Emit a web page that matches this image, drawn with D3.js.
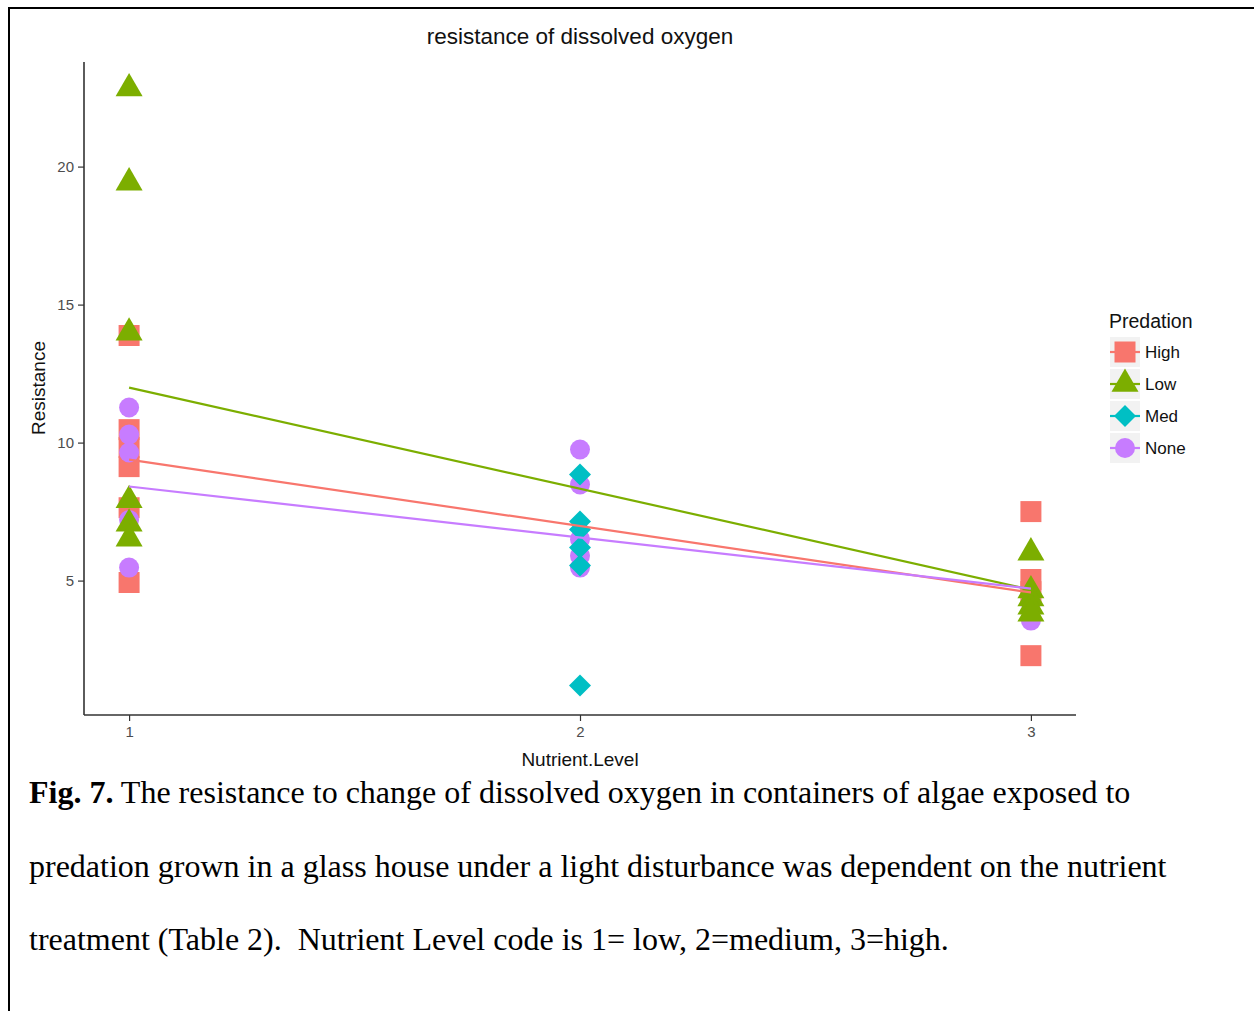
<!DOCTYPE html>
<html>
<head>
<meta charset="utf-8">
<script src="https://cdn.jsdelivr.net/npm/d3@7"></script>
<style>
  html, body { margin: 0; padding: 0; background: #fff; }
  svg { display: block; }
</style>
</head>
<body>
<svg id="fig" width="1254" height="1011"></svg>
<script>
// Predation groups and their observations (Nutrient.Level, Resistance)
const groups = ["High", "Low", "Med", "None"];
const colors = ["#F8766D", "#7CAE00", "#00BFC4", "#C77CFF"];

const highLevel = [1, 1, 1, 1, 1, 1, 3, 3, 3, 3];
const highValue = [13.88, 10.47, 9.82, 9.13, 7.64, 4.93, 7.5, 5.04, 4.6, 2.28];

const noneLevel = [1, 1, 1, 1, 1, 2, 2, 2, 2, 2, 3, 3];
const noneValue = [11.27, 10.29, 9.64, 7.2, 5.47, 9.75, 8.48, 6.5, 5.9, 5.47, 4.2, 3.55];

const medLevel = [2, 2, 2, 2, 2, 2];
const medValue = [8.84, 7.14, 6.85, 6.2, 5.55, 1.2];

const lowLevel = [1, 1, 1, 1, 1, 1, 3, 3, 3, 3, 3];
const lowValue = [22.83, 19.42, 13.98, 7.91, 7.06, 6.52, 6.01, 4.64, 4.35, 4.05, 3.8];

// Linear fits (value at Nutrient.Level 1 and 3)
const fitLevels = [1, 3];
const fitHigh = [9.38, 4.57];
const fitLow = [11.99, 4.67];
const fitNone = [8.41, 4.71];

const xTicks = [1, 2, 3];
const yTicks = [5, 10, 15, 20];

const titleText = "resistance of dissolved oxygen";
const xTitle = "Nutrient.Level";
const yTitle = "Resistance";
const legendTitle = "Predation";
const captionLines = [
  [["Fig. 7.", true], [" The resistance to change of dissolved oxygen in containers of algae exposed to", false]],
  [["predation grown in a glass house under a light disturbance was dependent on the nutrient", false]],
  [["treatment (Table 2).  Nutrient Level code is 1= low, 2=medium, 3=high.", false]]
];

const svg = d3.select("#fig");
const sans = "'Liberation Sans', Arial, sans-serif";
const serif = "'Liberation Serif', 'Times New Roman', serif";

// page frame
svg.append("line").attr("x1", 9).attr("x2", 1254).attr("y1", 8).attr("y2", 8)
  .attr("stroke", "#000").attr("stroke-width", 2);
svg.append("line").attr("x1", 9).attr("x2", 9).attr("y1", 7).attr("y2", 1011)
  .attr("stroke", "#000").attr("stroke-width", 2);

const plot = { left: 84, right: 1076, top: 62, bottom: 715 };

const x = d3.scaleLinear().domain([0.9, 3.1]).range([plot.left, plot.right]);
const y = d3.scaleLinear().domain([0.13, 23.79]).range([plot.bottom, plot.top]);

// symbol shapes per group
const shapeOf = {
  High: { type: d3.symbolSquare, size: 441, rot: 0 },
  Low: { type: d3.symbolTriangle, size: 316, rot: 0 },
  Med: { type: d3.symbolSquare, size: 242, rot: 45 },
  None: { type: d3.symbolCircle, size: 314, rot: 0 }
};
const symbolPath = g => d3.symbol().type(shapeOf[g].type).size(shapeOf[g].size)();

// axes
const yAxis = d3.axisLeft(y).tickValues(yTicks).tickSize(6).tickPadding(4).tickFormat(d3.format("d"));
const xAxis = d3.axisBottom(x).tickValues(xTicks).tickSize(6).tickPadding(5).tickFormat(d3.format("d"));

const gy = svg.append("g").attr("transform", `translate(${plot.left},0)`).call(yAxis);
const gx = svg.append("g").attr("transform", `translate(0,${plot.bottom})`).call(xAxis);
gy.select(".domain").attr("d", `M0,${plot.top}V${plot.bottom}`);
gx.select(".domain").attr("d", `M${plot.left},0H${plot.right}`);
[gx, gy].forEach(g => {
  g.select(".domain").attr("stroke", "#333").attr("stroke-width", 1.6);
  g.selectAll(".tick line").attr("stroke", "#333").attr("stroke-width", 1.2);
  g.selectAll(".tick text").attr("fill", "#4D4D4D").style("font-family", sans).style("font-size", "15px");
});

// points: drawn group by group
const layers = [
  ["High", highLevel, highValue],
  ["None", noneLevel, noneValue],
  ["Med", medLevel, medValue],
  ["Low", lowLevel, lowValue]
];
layers.forEach(([g, lv, vv]) => {
  const c = colors[groups.indexOf(g)];
  svg.append("g").selectAll("path").data(d3.zip(lv, vv)).join("path")
    .attr("d", symbolPath(g))
    .attr("transform", d => `translate(${x(d[0])},${y(d[1])}) rotate(${shapeOf[g].rot})`)
    .attr("fill", c);
});

// fitted lines
const line = d3.line().x(d => x(d[0])).y(d => y(d[1]));
[["High", fitHigh], ["Low", fitLow], ["None", fitNone]].forEach(([g, f]) => {
  svg.append("path").datum(d3.zip(fitLevels, f)).attr("d", line)
    .attr("fill", "none").attr("stroke", colors[groups.indexOf(g)]).attr("stroke-width", 2.2);
});

// titles
svg.append("text").attr("x", 580).attr("y", 44).attr("text-anchor", "middle")
  .style("font-family", sans).style("font-size", "22.5px").attr("fill", "#111").text(titleText);
svg.append("text").attr("x", 580).attr("y", 766).attr("text-anchor", "middle")
  .style("font-family", sans).style("font-size", "19px").attr("fill", "#111").text(xTitle);
svg.append("text").attr("transform", `translate(45,388) rotate(-90)`).attr("text-anchor", "middle")
  .style("font-family", sans).style("font-size", "19px").attr("fill", "#111").text(yTitle);

// legend
const lg = svg.append("g").attr("transform", "translate(1110,0)");
lg.append("text").attr("x", -1).attr("y", 328).style("font-family", sans).style("font-size", "19.5px")
  .attr("fill", "#111").text(legendTitle);
groups.forEach((g, i) => {
  const top = 337 + i * 32;
  const k = lg.append("g").attr("transform", `translate(0,${top})`);
  k.append("rect").attr("width", 30).attr("height", 30).attr("fill", "#F2F2F2");
  k.append("line").attr("x1", 0).attr("x2", 30).attr("y1", 15).attr("y2", 15)
    .attr("stroke", colors[i]).attr("stroke-width", 2.2);
  k.append("path").attr("d", symbolPath(g))
    .attr("transform", `translate(15,15) rotate(${shapeOf[g].rot})`).attr("fill", colors[i]);
  k.append("text").attr("x", 35).attr("y", 21).style("font-family", sans).style("font-size", "17px")
    .attr("fill", "#111").text(g);
});

// caption
captionLines.forEach((parts, i) => {
  const t = svg.append("text").attr("x", 29).attr("y", 803 + i * 73.5)
    .style("font-family", serif).style("font-size", "32px").attr("fill", "#000")
    .attr("xml:space", "preserve");
  parts.forEach(([s, bold]) => {
    t.append("tspan").attr("font-weight", bold ? "bold" : "normal").style("white-space", "pre").text(s);
  });
});
</script>
</body>
</html>
